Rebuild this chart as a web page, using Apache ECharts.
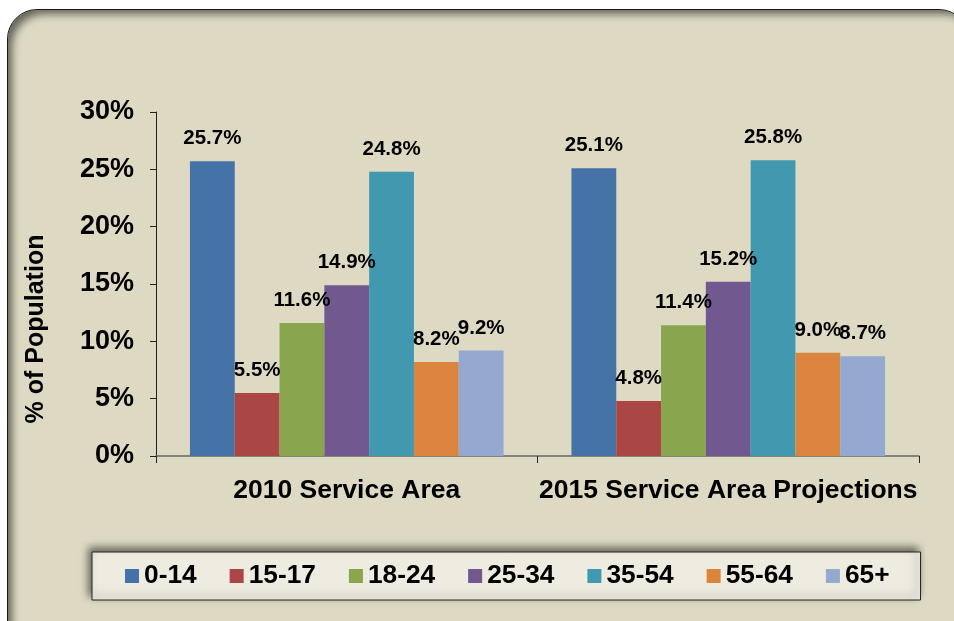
<!DOCTYPE html>
<html>
<head>
<meta charset="utf-8">
<script src="https://cdn.jsdelivr.net/npm/echarts@6/dist/echarts.min.js"></script>
<style>
  html, body { margin: 0; padding: 0; background: #ffffff; overflow: hidden; }
  .frame {
    position: absolute; left: 7px; top: 9px; width: 960px; height: 700px;
    background: #ddd9c3; border: 1px solid #1a1a1a; border-radius: 30px;
    box-shadow: inset 7px 7px 9px -3px rgba(0, 0, 0, 0.55);
  }
  #chart { position: absolute; left: 0; top: 0; width: 954px; height: 621px; }
</style>
</head>
<body>
<div class="frame"></div>
<div id="chart"></div>
<script>
// 分类与数据
const categories = ["2010 Service Area", "2015 Service Area Projections"];
const ageGroups = ["0-14", "15-17", "18-24", "25-34", "35-54", "55-64", "65+"];
const values2010 = [25.7, 5.5, 11.6, 14.9, 24.8, 8.2, 9.2];
const values2015 = [25.1, 4.8, 11.4, 15.2, 25.8, 9.0, 8.7];
const yTicks = [0, 5, 10, 15, 20, 25, 30];

const colors = ["#4572a7", "#aa4643", "#89a54e", "#71588f", "#4198af", "#db843d", "#93a9cf"];
const font = "'Liberation Sans', Arial, sans-serif";

const chart = echarts.init(document.getElementById("chart"));

const series = ageGroups.map((name, i) => ({
  name,
  type: "bar",
  data: [values2010[i], values2015[i]],
  barGap: "0%",
  barCategoryGap: "17.8%",
  itemStyle: { color: colors[i] },
  label: {
    show: true,
    position: "top",
    distance: 12,
    formatter: (p) => p.value.toFixed(1) + "%",
    color: "#000",
    fontFamily: font,
    fontWeight: "bold",
    fontSize: 20.5
  }
}));

chart.setOption({
  color: colors,
  animation: false,
  grid: { left: 156, right: 35, top: 112, bottom: 165 },
  legend: {
    data: ageGroups,
    left: 92,
    top: 552,
    padding: [11, 31, 11, 33],
    itemGap: 33,
    itemWidth: 14,
    itemHeight: 14,
    icon: "rect",
    backgroundColor: "#eeebe0",
    borderColor: "#222",
    borderWidth: 1,
    shadowColor: "rgba(0,0,0,0.55)",
    shadowBlur: 8,
    shadowOffsetX: -3,
    shadowOffsetY: -4,
    textStyle: { color: "#000", fontFamily: font, fontWeight: "bold", fontSize: 26.3 }
  },
  xAxis: {
    type: "category",
    data: categories,
    axisLine: { lineStyle: { color: "#666", width: 1.5 } },
    axisTick: { show: true, length: 7, lineStyle: { color: "#222" } },
    axisLabel: { interval: 0, margin: 21, color: "#000", fontFamily: font, fontWeight: "bold", fontSize: 26.5 }
  },
  yAxis: {
    type: "value",
    min: yTicks[0],
    max: yTicks[yTicks.length - 1],
    interval: 5,
    name: "% of Population",
    nameLocation: "middle",
    nameRotate: 90,
    nameGap: 107,
    nameTextStyle: {
      color: "#000", fontFamily: font, fontWeight: "bold", fontSize: 25,
      padding: [0, 90, 0, 0]
    },
    axisLine: { show: true, lineStyle: { color: "#222", width: 1 } },
    axisTick: { show: true, length: 6, lineStyle: { color: "#222" } },
    splitLine: { show: false },
    axisLabel: {
      margin: 22,
      color: "#000",
      fontFamily: font,
      fontWeight: "bold",
      fontSize: 27,
      formatter: (v) => v + "%"
    }
  },
  series
});
</script>
</body>
</html>
